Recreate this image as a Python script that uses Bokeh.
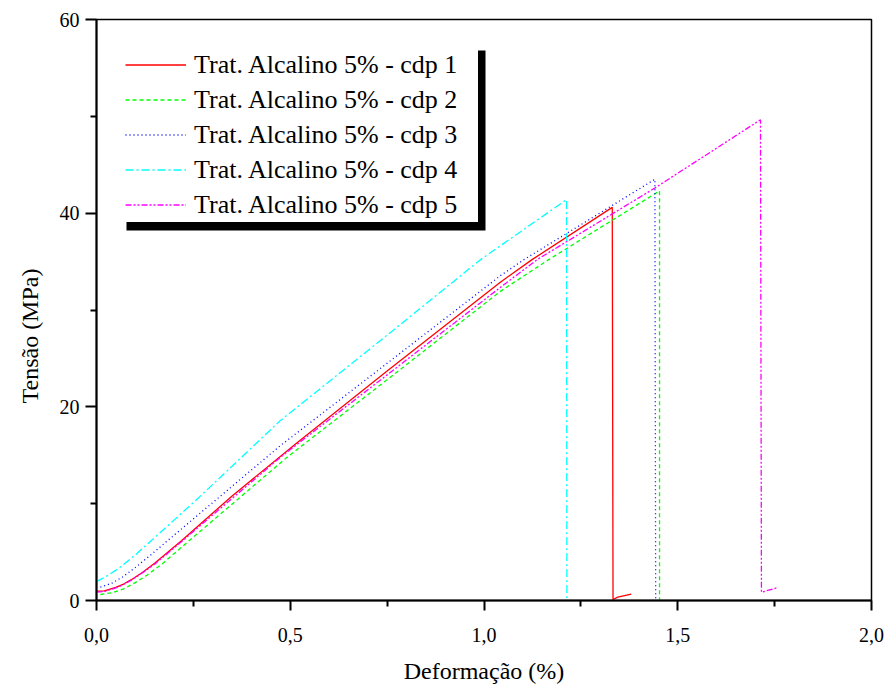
from bokeh.plotting import figure
from bokeh.models import (Range1d, FixedTicker, CustomJSTickFormatter, Legend,
                          LegendItem, BoxAnnotation, Title)
from bokeh.embed import file_html
from bokeh.resources import INLINE

# ---------------- data ----------------
x_label = "Deformação (%)"
y_label = "Tensão (MPa)"
x_ticks = [0.0, 0.5, 1.0, 1.5, 2.0]
x_minor = [0.25, 0.75, 1.25, 1.75]
y_ticks = [0, 20, 40, 60]
y_minor = [10, 30, 50]

names = ["Trat. Alcalino 5% - cdp 1", "Trat. Alcalino 5% - cdp 2",
         "Trat. Alcalino 5% - cdp 3", "Trat. Alcalino 5% - cdp 4",
         "Trat. Alcalino 5% - cdp 5"]

cdp1_x = [0.0, 0.02, 0.05, 0.07, 0.09, 0.12, 0.15, 0.22, 0.35, 0.516, 0.75, 1.043, 1.124, 1.331, 1.333, 1.345, 1.38]
cdp1_y = [0.96, 1.0, 1.35, 1.7, 2.15, 2.95, 3.85, 6.2, 10.8, 16.25, 23.7, 32.9, 35.2, 40.6, 0.1, 0.35, 0.65]

cdp2_x = [0.01, 0.04, 0.07, 0.1, 0.13, 0.17, 0.234, 0.492, 0.75, 1.043, 1.167, 1.441, 1.453, 1.453]
cdp2_y = [0.62, 0.8, 1.2, 1.85, 2.6, 3.8, 6.0, 14.8, 22.8, 31.95, 35.2, 42.0, 42.3, 0.0]

cdp3_x = [0.01, 0.04, 0.07, 0.1, 0.14, 0.187, 0.258, 0.4748, 0.75, 1.043, 1.103, 1.441, 1.443]
cdp3_y = [1.37, 1.8, 2.5, 3.4, 4.7, 6.3, 8.7, 16.0, 24.5, 33.56, 35.2, 43.5, 0.0]

cdp4_x = [0.0, 0.03, 0.06, 0.1, 0.139, 0.2, 0.258, 0.4748, 0.75, 0.991, 1.213, 1.214]
cdp4_y = [1.95, 2.6, 3.4, 4.7, 6.1, 8.3, 10.4, 18.6, 27.4, 35.2, 41.4, 0.0]

cdp5_x = [0.0, 0.02, 0.05, 0.07, 0.09, 0.12, 0.15, 0.22, 0.4748, 0.75, 1.043, 1.137, 1.441, 1.7135, 1.716, 1.72, 1.755]
cdp5_y = [0.86, 0.92, 1.3, 1.65, 2.1, 2.9, 3.75, 6.1, 14.8, 23.3, 32.36, 35.2, 42.6, 49.64, 0.86, 0.9, 1.3]

colors = ["#FF0000", "#00FF00", "#0000FF", "#00FFFF", "#FF00FF"]
dashes = ["solid", "4 3", "1 3", "8 3 2 3", "6 2 2 2 2 2"]

# ---------------- figure ----------------
FONT = "Liberation Serif"

p = figure(width=884, height=686, output_backend="svg", toolbar_location=None,
           x_range=Range1d(0, 2.0), y_range=Range1d(0, 60),
           min_border_left=96, min_border_right=13, min_border_top=19,
           min_border_bottom=86)
p.background_fill_color = "white"
p.border_fill_color = "white"
p.outline_line_color = "black"
p.outline_line_width = 1.5
p.xgrid.visible = False
p.ygrid.visible = False

p.xaxis.ticker = FixedTicker(ticks=x_ticks, minor_ticks=x_minor)
p.yaxis.ticker = FixedTicker(ticks=y_ticks, minor_ticks=y_minor)
p.xaxis.formatter = CustomJSTickFormatter(code="return tick.toFixed(1).replace('.', ',');")
p.yaxis.formatter = CustomJSTickFormatter(code="return tick.toFixed(0);")

for ax in (p.xaxis, p.yaxis):
    ax.axis_line_width = 2
    ax.axis_line_color = "black"
    ax.major_tick_line_width = 2
    ax.minor_tick_line_width = 2
    ax.major_tick_in = 0
    ax.minor_tick_in = 0
    ax.major_label_text_font = FONT
    ax.major_label_text_font_size = "20px"
    ax.major_label_text_color = "black"
    ax.axis_label_text_font = FONT
    ax.axis_label_text_font_size = "24px"
    ax.axis_label_text_font_style = "normal"
    ax.axis_label_text_color = "black"

p.xaxis.major_tick_out = 10
p.xaxis.minor_tick_out = 6
p.yaxis.major_tick_out = 11
p.yaxis.minor_tick_out = 6
p.xaxis.major_label_standoff = 17
p.yaxis.major_label_standoff = 6
p.xaxis.axis_label = x_label
p.xaxis.axis_label_standoff = 13

# y-axis title (sits a little below the centre, as in the original)
title_kw = dict(text=y_label, align="left", offset=197,
                text_font=FONT, text_font_size="24px", text_font_style="normal",
                text_color="black")
if "standoff" in Title.properties():
    title_kw["standoff"] = 28
ytitle = Title(**title_kw)
p.add_layout(ytitle, "left")

xs = [cdp1_x, cdp2_x, cdp3_x, cdp4_x, cdp5_x]
ys = [cdp1_y, cdp2_y, cdp3_y, cdp4_y, cdp5_y]
rends = []
for xv, yv, c, d in zip(xs, ys, colors, dashes):
    r = p.line(xv, yv, line_color=c, line_width=1.3, line_dash=d)
    rends.append(r)

# legend drop shadow
p.add_layout(BoxAnnotation(left=0.0774, right=1.0039, bottom=38.21, top=56.80,
                           fill_color="black", fill_alpha=1.0, line_color=None,
                           level="annotation"))

items = [LegendItem(label=n, renderers=[r]) for n, r in zip(names, rends)]
legend = Legend(items=items, location=(29, 378),
                label_text_font=FONT, label_text_font_size="26px",
                label_text_color="black",
                glyph_width=61, glyph_height=35, label_height=35,
                label_standoff=8, spacing=0, padding=8, margin=0,
                label_width=284,
                border_line_color=None,
                background_fill_color="white", background_fill_alpha=1.0)
p.add_layout(legend, "center")

open("out.html", "w").write(file_html(p, INLINE))
